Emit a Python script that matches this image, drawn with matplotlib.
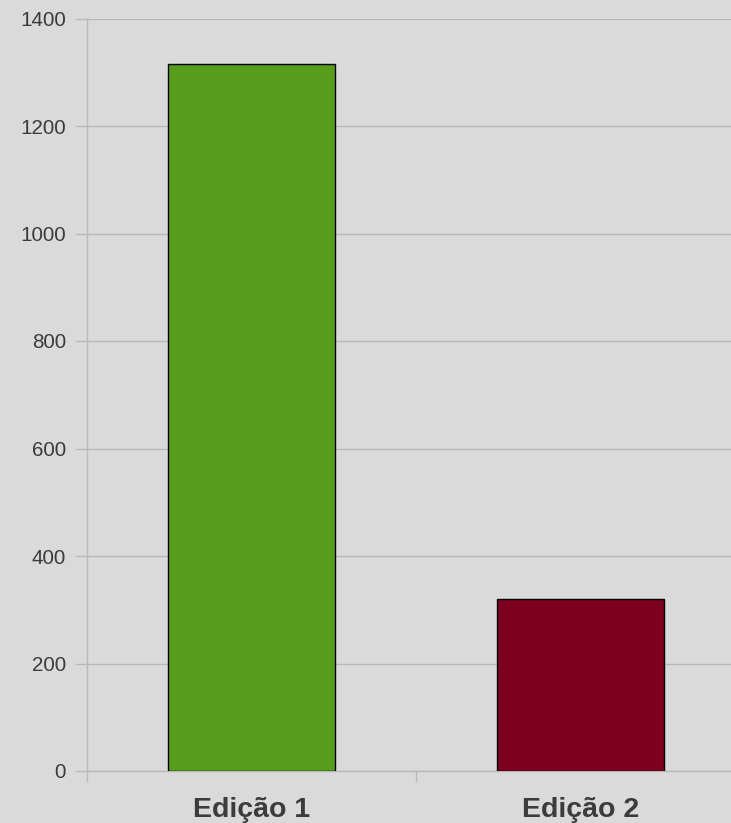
import numpy as np
import matplotlib
matplotlib.use('Agg')
import matplotlib.pyplot as plt

# dados
categorias = ['Edição 1', 'Edição 2']
valores = [1315, 320]
cores = ['#579d1c', '#7e0021']
yticks = [0, 200, 400, 600, 800, 1000, 1200, 1400]

plt.rcParams['font.family'] = ['Liberation Sans', 'DejaVu Sans']

fundo = '#dadada'
cinza = '#b8b8b8'

fig = plt.figure(figsize=(7.31, 8.23), dpi=100)
fig.patch.set_facecolor(fundo)
ax = fig.add_axes([87/731, 52/823, 658/731, 752.5/823])
ax.set_facecolor('none')

x = np.arange(len(categorias))
ax.bar(x, valores, width=0.505, color=cores, edgecolor='black', linewidth=1, zorder=3)

ax.set_xlim(-0.5, len(categorias) - 0.5)
ax.set_ylim(0, 1400)
ax.set_yticks(yticks)
ax.set_yticklabels([str(v) for v in yticks])
ax.yaxis.grid(True, color=cinza, linewidth=1, zorder=0)

ax.set_xticks(x)
ax.set_xticklabels(categorias, fontsize=20.5, fontweight='bold', color='#3c3c3c')
ax.set_xticks(np.arange(-0.5, len(categorias)), minor=True)
ax.tick_params(axis='x', which='major', length=0, pad=19)
ax.tick_params(axis='x', which='minor', length=8, width=1, color=cinza)
ax.tick_params(axis='y', length=8.6, width=1, color=cinza, pad=6.5,
               labelsize=14.9, labelcolor='#3c3c3c')

for s in ['top', 'right']:
    ax.spines[s].set_visible(False)
for s in ['left', 'bottom']:
    ax.spines[s].set_color(cinza)
    ax.spines[s].set_linewidth(1)

fig.savefig('out.png', dpi=100, facecolor=fundo)
